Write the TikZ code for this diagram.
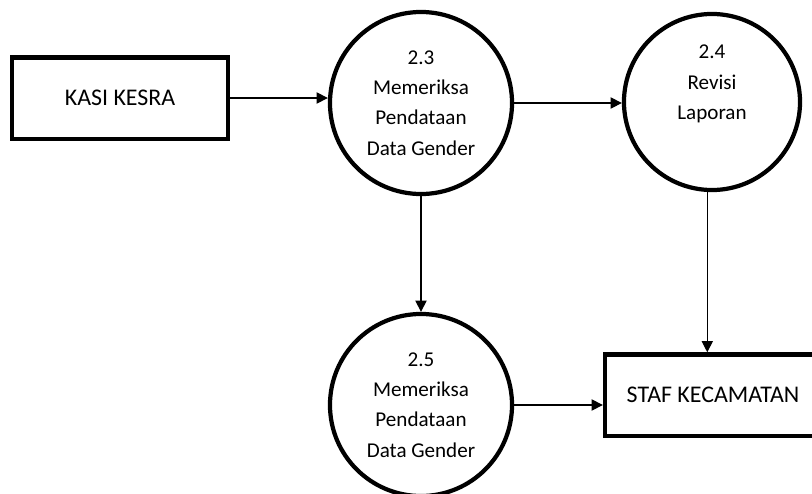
\documentclass[tikz,border=0pt]{standalone}
\usepackage{fontspec}
\setmainfont{Carlito}
\usetikzlibrary{arrows.meta,positioning}

\begin{document}
\begin{tikzpicture}[x=0.025cm,y=-0.025cm,
  entity/.style={draw,line width=3pt,minimum width=5.4cm,minimum height=2.03cm,font=\fontsize{17}{20}\selectfont},
  process/.style={draw,circle,line width=3pt,minimum size=4.55cm,inner sep=0pt,align=center,font=\fontsize{15}{21.5}\selectfont},
  flow/.style={line width=0.8pt,-{Triangle[length=8pt,width=8pt]}}]
\useasboundingbox (0,0) rectangle (812,494);

\node[entity] (kasi) at (120,98) {KASI KESRA};
\node[process] (p23) at (421,103) {2.3\\Memeriksa\\Pendataan\\Data Gender};
\node[process,minimum size=4.4cm] (p24) at (712,102) {2.4\\Revisi\\Laporan\\\strut};
\node[process] (p25) at (421,405) {2.5\\Memeriksa\\Pendataan\\Data Gender};
\node[entity] (staf) at (713,395) {STAF KECAMATAN};

\draw[flow] (kasi.east) -- (kasi.east -| p23.west);
\draw[flow] (p23.east) -- (p23.east -| p24.west);
\draw[flow] (p23.south) -- (p25.north);
\draw[flow] (p24.267) -- (p24.267 |- staf.north);
\draw[flow] (p25.east) -- (p25.east -| staf.west);

\end{tikzpicture}
\end{document}
